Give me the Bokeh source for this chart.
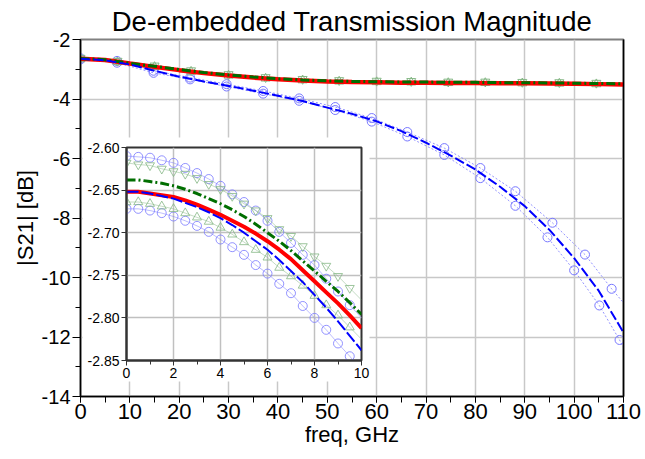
from bokeh.plotting import figure
from bokeh.models import (Range1d, LinearAxis, SingleIntervalTicker, FixedTicker,
                          PrintfTickFormatter, Column, BoxAnnotation)
from bokeh.embed import file_html
from bokeh.resources import INLINE

FONT = "Liberation Sans"

# ---------------- main plot data ----------------
title_text = "De-embedded Transmission Magnitude"
x_label = "freq, GHz"
y_label = "|S21| [dB]"

freq_main = [0, 5, 10, 15, 20, 25, 30, 35, 40, 45, 50, 55, 60, 65, 70, 75, 80, 85, 90, 95, 100, 105, 110]
red_main = [-2.65, -2.69, -2.81, -2.92, -3.03, -3.13, -3.21, -3.28, -3.34, -3.38, -3.41, -3.43, -3.44,
            -3.45, -3.45, -3.46, -3.46, -3.47, -3.47, -3.48, -3.49, -3.50, -3.51]
green_main = [-2.64, -2.68, -2.80, -2.90, -3.01, -3.11, -3.19, -3.26, -3.32, -3.36, -3.39, -3.41, -3.42,
              -3.43, -3.43, -3.44, -3.44, -3.45, -3.45, -3.46, -3.47, -3.48, -3.49]
blue_main = [-2.65, -2.70, -2.84, -3.05, -3.25, -3.41, -3.56, -3.72, -3.89, -4.07, -4.29, -4.50, -4.75,
             -5.08, -5.47, -5.90, -6.37, -6.95, -7.60, -8.40, -9.35, -10.45, -11.85]

blue_up_x = [0, 7.4, 14.8, 22.2, 29.6, 37, 44.3, 51.6, 59, 66.2, 73.7, 81.0, 88.1, 95.6, 102.2, 107.6, 110]
blue_up_y = [-2.63, -2.72, -3.05, -3.28, -3.50, -3.73, -3.98, -4.27, -4.64, -5.11, -5.65, -6.32, -7.10,
             -8.16, -9.23, -10.38, -10.85]
blue_lo_x = [0, 7.4, 14.8, 22.2, 29.6, 37, 44.3, 51.6, 59, 66.2, 73.7, 81.0, 88.1, 94.6, 100.0, 105.1, 109.2, 110]
blue_lo_y = [-2.67, -2.78, -3.12, -3.34, -3.58, -3.82, -4.06, -4.37, -4.76, -5.26, -5.88, -6.66, -7.59,
             -8.65, -9.76, -10.94, -12.10, -12.36]

green_mk_x = [0, 7.5, 15, 22.4, 30, 37.5, 45, 52.4, 60, 67, 74.5, 82, 89.5, 97, 104.5]
green_up_y = [-2.62, -2.72, -2.88, -3.04, -3.17, -3.27, -3.33, -3.37, -3.39, -3.40, -3.42, -3.42, -3.43, -3.44, -3.46]
green_lo_y = [-2.66, -2.76, -2.92, -3.08, -3.21, -3.31, -3.37, -3.41, -3.43, -3.44, -3.46, -3.46, -3.47, -3.48, -3.50]

# ---------------- inset data ----------------
freq_in = [0, 0.5, 1, 1.5, 2, 2.5, 3, 3.5, 4, 4.5, 5, 5.5, 6, 6.5, 7, 7.5, 8, 8.5, 9, 9.5, 10]
red_in = [-2.652, -2.652, -2.654, -2.656, -2.658, -2.662, -2.667, -2.673, -2.679, -2.686, -2.693,
          -2.701, -2.710, -2.720, -2.731, -2.744, -2.757, -2.770, -2.783, -2.797, -2.812]
green_in = [-2.638, -2.638, -2.640, -2.642, -2.645, -2.649, -2.654, -2.660, -2.666, -2.673, -2.681,
            -2.690, -2.700, -2.710, -2.721, -2.733, -2.745, -2.757, -2.769, -2.782, -2.796]
blue_in = [-2.652, -2.652, -2.654, -2.657, -2.660, -2.665, -2.670, -2.676, -2.683, -2.691, -2.700,
           -2.710, -2.720, -2.732, -2.745, -2.758, -2.773, -2.788, -2.804, -2.821, -2.838]
blue_up_in = [-2.610, -2.611, -2.612, -2.615, -2.618, -2.624, -2.630, -2.637, -2.645, -2.655, -2.664,
              -2.674, -2.686, -2.699, -2.712, -2.726, -2.738, -2.754, -2.769, -2.785, -2.800]
blue_lo_in = [-2.672, -2.672, -2.674, -2.677, -2.681, -2.686, -2.692, -2.699, -2.708, -2.717, -2.726,
              -2.738, -2.748, -2.760, -2.771, -2.786, -2.800, -2.814, -2.830, -2.845, -2.862]
green_up_in = [-2.618, -2.620, -2.621, -2.625, -2.628, -2.631, -2.636, -2.643, -2.649, -2.657, -2.666,
               -2.674, -2.683, -2.696, -2.704, -2.716, -2.728, -2.739, -2.751, -2.765, -2.779]
green_lo_in = [-2.664, -2.664, -2.666, -2.669, -2.672, -2.677, -2.682, -2.687, -2.694, -2.702, -2.711,
               -2.720, -2.729, -2.741, -2.751, -2.762, -2.774, -2.785, -2.797, -2.811, -2.825]
inset_yticks = [-2.85, -2.80, -2.75, -2.70, -2.65, -2.60]

RED = "#ff0000"
GREEN = "#006e00"
BLUE = "#0000ff"
LBLUE = "#7878ff"
LGREEN = "#86b886"
GRID = "#c8c8c8"

# ---------------- layout geometry ----------------
WIN_W, WIN_H = 645, 459
W, H = 643, 457
OFF_X, OFF_Y = (WIN_W - W) / 2, (WIN_H - H) / 2      # content is centred in the window
# wanted frame edges in window pixels
PF_L, PF_R, PF_T, PF_B = 81, 624, 40, 397
M_LEFT = int(round(PF_L - OFF_X))
M_TOP = int(round(PF_T - OFF_Y))
M_RIGHT = int(round(W - (PF_R - OFF_X)))
M_BOTTOM = int(round(H - (PF_B - OFF_Y)))
FW, FH = W - M_LEFT - M_RIGHT, H - M_TOP - M_BOTTOM
X0, X1, Y0, Y1 = 0, 110, -14, -2

# inset (the column aligns its left/right borders with the main figure's)
I_FW, I_FH = 235, 213
I_TOP, I_BOTTOM = 10, 24
IW = M_LEFT + I_FW + M_RIGHT
IH = I_TOP + I_FH + I_BOTTOM
I_FRAME_X = int(round(127 - OFF_X))
I_FRAME_Y = int(round(148 - OFF_Y))
I_POS_X, I_POS_Y = I_FRAME_X - M_LEFT, I_FRAME_Y - I_TOP
# white panel behind the inset (window pixels -> canvas pixels)
BOX_L, BOX_R = 83 - OFF_X, 370 - OFF_X
BOX_T, BOX_B = 138 - OFF_Y, 382 - OFF_Y

# ---------------- main figure ----------------
p = figure(output_backend="svg", toolbar_location=None, width=W, height=H,
           min_border_left=M_LEFT, min_border_right=M_RIGHT, min_border_top=M_TOP,
           min_border_bottom=M_BOTTOM,
           x_range=Range1d(X0, X1), y_range=Range1d(Y0, Y1))
p.background_fill_color = "white"
p.border_fill_color = "white"
p.outline_line_color = "#808080"
p.outline_line_width = 2

p.title.text = title_text
p.title.align = "center"
p.title.text_font = FONT
p.title.text_font_size = "27.5px"
p.title.text_font_style = "normal"
p.title.text_color = "black"
p.title.standoff = 5

p.xaxis.ticker = SingleIntervalTicker(interval=10, num_minor_ticks=2)
p.yaxis.ticker = SingleIntervalTicker(interval=2, num_minor_ticks=2)
p.yaxis.formatter = PrintfTickFormatter(format="%d")
for ax in (p.xaxis[0], p.yaxis[0]):
    ax.axis_line_color = "black"
    ax.axis_line_width = 1.5
    ax.major_tick_line_color = "black"
    ax.minor_tick_line_color = "black"
    ax.major_tick_in = 0
    ax.minor_tick_in = 0
    ax.major_label_text_font = FONT
    ax.major_label_text_color = "black"
    ax.axis_label_text_font = FONT
    ax.axis_label_text_font_style = "normal"
    ax.axis_label_text_font_size = "22px"
    ax.axis_label_text_color = "black"
p.xaxis.major_tick_out = 6
p.xaxis.minor_tick_out = 6
p.yaxis.major_tick_out = 8
p.yaxis.minor_tick_out = 5
p.xaxis.major_label_text_font_size = "22px"
p.yaxis.major_label_text_font_size = "20px"
p.xaxis.major_label_standoff = 1
p.yaxis.major_label_standoff = 2
p.xaxis.axis_label = x_label
p.yaxis.axis_label = y_label
p.xaxis.axis_label_standoff = 0
p.yaxis.axis_label_standoff = 1

right_ax = LinearAxis(ticker=FixedTicker(ticks=[]), axis_line_color="black", axis_line_width=1.5,
                      major_tick_line_color=None, minor_tick_line_color=None,
                      major_label_text_font_size="0px")
p.add_layout(right_ax, "right")

p.xgrid.grid_line_color = GRID
p.ygrid.grid_line_color = GRID
p.xgrid.grid_line_width = 1.5
p.ygrid.grid_line_width = 1.5

# bound series (light, thin, markers)
p.line(blue_up_x, blue_up_y, color=LBLUE, line_width=0.8, line_dash="2 2")
p.line(blue_lo_x, blue_lo_y, color=LBLUE, line_width=0.8, line_dash="2 2")
p.scatter(blue_up_x[:-1], blue_up_y[:-1], marker="circle", size=9, fill_color=None,
          line_color=LBLUE, line_width=1)
p.scatter(blue_lo_x[:-1], blue_lo_y[:-1], marker="circle", size=9, fill_color=None,
          line_color=LBLUE, line_width=1)
p.scatter(green_mk_x, green_up_y, marker="inverted_triangle", size=9, fill_color=None,
          line_color=LGREEN, line_width=1)
p.scatter(green_mk_x, green_lo_y, marker="triangle", size=9, fill_color=None,
          line_color=LGREEN, line_width=1)

p.line(freq_main, red_main, color=RED, line_width=4.5)
p.line(freq_main, green_main, color=GREEN, line_width=3, line_dash="9 3 2 3")
p.line(freq_main, blue_main, color=BLUE, line_width=2, line_dash="10 3")

# white panel behind the inset, converted from canvas pixels to main data units
def px_to_x(px):
    return X0 + (px - M_LEFT) / FW * (X1 - X0)

def py_to_y(py):
    return Y1 - (py - M_TOP) / FH * (Y1 - Y0)

p.add_layout(BoxAnnotation(left=px_to_x(BOX_L), right=px_to_x(BOX_R),
                           top=py_to_y(BOX_T), bottom=py_to_y(BOX_B),
                           fill_color="white", fill_alpha=1.0, line_color=None,
                           level="annotation"))

# ---------------- inset figure (transparent border) ----------------
ins = figure(output_backend="svg", toolbar_location=None, width=IW, height=IH,
             min_border_left=M_LEFT, min_border_top=I_TOP,
             min_border_right=M_RIGHT, min_border_bottom=I_BOTTOM,
             x_range=Range1d(0, 10), y_range=Range1d(-2.85, -2.60))
ins.background_fill_color = "white"
ins.border_fill_color = None
ins.border_fill_alpha = 0
ins.outline_line_color = "#333333"
ins.outline_line_width = 2
ins.xaxis.ticker = SingleIntervalTicker(interval=2, num_minor_ticks=2)
ins.yaxis.ticker = FixedTicker(ticks=inset_yticks)
ins.yaxis.formatter = PrintfTickFormatter(format="%.2f")
for ax in (ins.xaxis[0], ins.yaxis[0]):
    ax.axis_line_color = "#333333"
    ax.axis_line_width = 2
    ax.major_tick_line_color = "#333333"
    ax.minor_tick_line_color = "#333333"
    ax.major_tick_in = 0
    ax.minor_tick_in = 0
    ax.major_tick_out = 5
    ax.minor_tick_out = 4
    ax.major_label_text_font = FONT
    ax.major_label_text_font_size = "14px"
    ax.major_label_text_color = "black"
    ax.major_label_standoff = 2
ins.xgrid.grid_line_color = "#c0c0c0"
ins.ygrid.grid_line_color = "#c0c0c0"
ins.xgrid.grid_line_width = 1.5
ins.ygrid.grid_line_width = 1.5

for yy in (blue_up_in, blue_lo_in):
    ins.line(freq_in, yy, color=LBLUE, line_width=0.7, alpha=0.7)
    ins.scatter(freq_in[:-1], yy[:-1], marker="circle", size=9, fill_color=None,
                line_color=LBLUE, line_width=1, alpha=0.8)
ins.line(freq_in, green_up_in, color=LGREEN, line_width=0.7, alpha=0.7)
ins.scatter(freq_in[:-1], green_up_in[:-1], marker="inverted_triangle", size=9, fill_color=None,
            line_color=LGREEN, line_width=1, alpha=0.8)
ins.line(freq_in, green_lo_in, color=LGREEN, line_width=0.7, alpha=0.7)
ins.scatter(freq_in[:-1], green_lo_in[:-1], marker="triangle", size=9, fill_color=None,
            line_color=LGREEN, line_width=1, alpha=0.8)

ins.line(freq_in, red_in, color=RED, line_width=4)
ins.line(freq_in, green_in, color=GREEN, line_width=3, line_dash="9 3 2 3")
ins.line(freq_in, blue_in, color=BLUE, line_width=2, line_dash="12 3")

# overlay the inset on the main plot: negative top margin pulls it up,
# bottom margin gives the space back so the column keeps the main plot's height
ins.margin = (I_POS_Y - H, 0, H - I_POS_Y - IH, I_POS_X)

layout = Column(children=[p, ins])

open("out.html", "w").write(file_html(layout, INLINE))
